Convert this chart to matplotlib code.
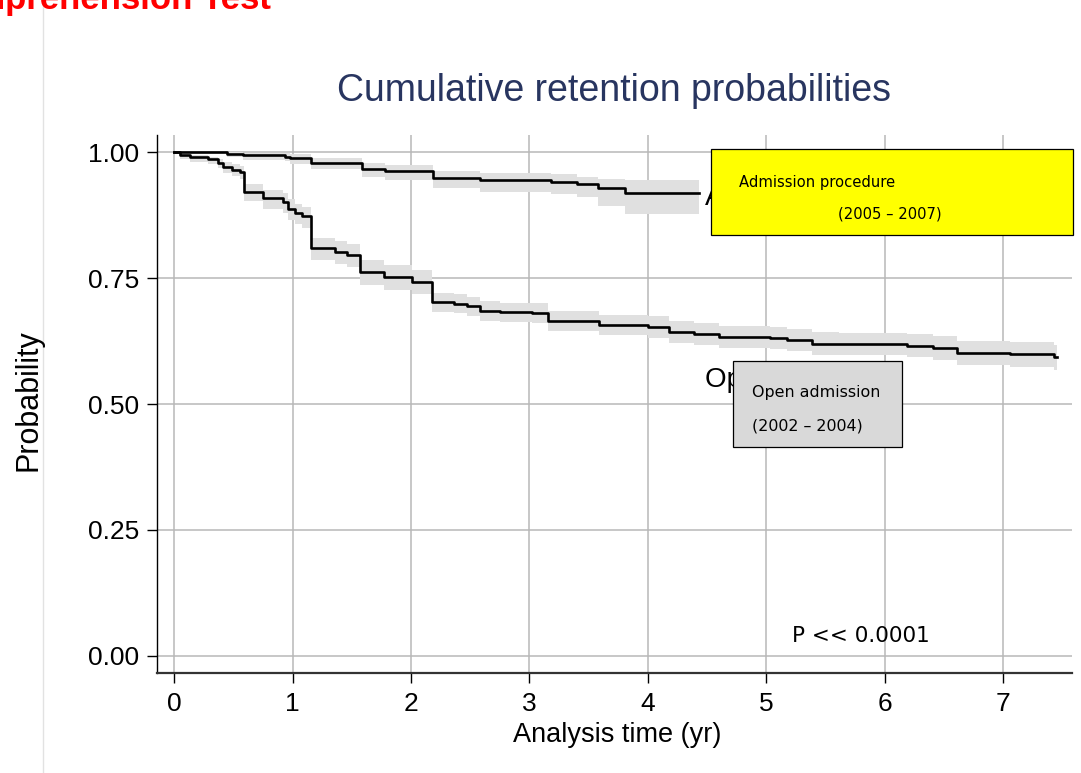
import matplotlib
matplotlib.use("Agg")
import matplotlib.pyplot as plt
from matplotlib.patches import Rectangle
from matplotlib.lines import Line2D
from matplotlib.transforms import Bbox

# ---------------- data ----------------
# Admission procedure (2005 - 2007)
adm_t = [0, 0.445, 0.58, 0.94, 0.98, 1.16, 1.585, 1.78, 2.185, 2.585, 3.18, 3.40, 3.58, 3.81, 4.43]
adm_s = [1.0, 0.997, 0.9935, 0.991, 0.9875, 0.979, 0.966, 0.962, 0.948, 0.944, 0.941, 0.9365, 0.928, 0.919, 0.919]
adm_lo = [1.0, 0.990, 0.985, 0.982, 0.977, 0.966, 0.950, 0.945, 0.928, 0.921, 0.917, 0.911, 0.893, 0.877, 0.877]
adm_hi = [1.0, 1.000, 0.999, 0.998, 0.996, 0.988, 0.978, 0.975, 0.963, 0.959, 0.956, 0.951, 0.946, 0.944, 0.944]

# Open admission (2002 - 2004)
open_t = [0, 0.05, 0.135, 0.29, 0.37, 0.415, 0.49, 0.56, 0.59, 0.755, 0.92, 0.965, 1.02, 1.08,
          1.16, 1.36, 1.46, 1.57, 1.77, 2.01, 2.18, 2.36, 2.47, 2.585, 2.75, 3.02, 3.16, 3.585,
          4.005, 4.175, 4.385, 4.6, 5.03, 5.175, 5.385, 5.61, 6.19, 6.41, 6.61, 7.06, 7.43, 7.45]
open_s = [1.0, 0.994, 0.9895, 0.9855, 0.979, 0.971, 0.9655, 0.961, 0.921, 0.908, 0.901, 0.888, 0.8795, 0.873,
          0.809, 0.802, 0.796, 0.7625, 0.7525, 0.743, 0.702, 0.6995, 0.6945, 0.685, 0.682, 0.680, 0.6647, 0.657,
          0.6535, 0.6435, 0.639, 0.6335, 0.6303, 0.627, 0.620, 0.619, 0.6157, 0.611, 0.602, 0.599, 0.5925, 0.5925]
open_lo = [1.0, 0.987, 0.981, 0.976, 0.968, 0.958, 0.952, 0.946, 0.902, 0.888, 0.880, 0.866, 0.857, 0.850,
           0.785, 0.778, 0.771, 0.737, 0.727, 0.718, 0.683, 0.681, 0.675, 0.665, 0.662, 0.660, 0.644, 0.636,
           0.632, 0.622, 0.617, 0.612, 0.609, 0.605, 0.598, 0.597, 0.593, 0.588, 0.578, 0.574, 0.568, 0.568]
open_hi = [1.0, 0.997, 0.994, 0.991, 0.986, 0.980, 0.976, 0.972, 0.936, 0.924, 0.918, 0.906, 0.898, 0.892,
           0.830, 0.824, 0.818, 0.786, 0.776, 0.767, 0.7195, 0.718, 0.713, 0.704, 0.701, 0.700, 0.684, 0.677,
           0.674, 0.664, 0.660, 0.655, 0.6525, 0.649, 0.642, 0.641, 0.638, 0.634, 0.625, 0.623, 0.617, 0.617]

x_ticks = [0, 1, 2, 3, 4, 5, 6, 7]
y_ticks = [0.00, 0.25, 0.50, 0.75, 1.00]

title = "Cumulative retention probabilities"
xlabel = "Analysis time (yr)"
ylabel = "Probability"
pval = "P << 0.0001"

# ---------------- figure ----------------
W, H = 1081, 773
fig = plt.figure(figsize=(W / 100, H / 100), dpi=100)
fig.patch.set_facecolor("white")

def fx(px):
    return px / W

def fy(py):
    return 1 - py / H

ax = fig.add_axes([fx(157), fy(673), fx(1072) - fx(157), fy(135) - fy(673)])
ax.set_xlim(-0.144, 7.58)
ax.set_ylim(-0.034, 1.034)

band_col = "#e0e0e0"
ax.fill_between(open_t, open_lo, open_hi, step="post", color=band_col, lw=0, zorder=2)
ax.fill_between(adm_t, adm_lo, adm_hi, step="post", color=band_col, lw=0, zorder=2)
ax.step(open_t, open_s, where="post", color="black", lw=1.9, zorder=3)
ax.step(adm_t, adm_s, where="post", color="black", lw=1.9, zorder=3)

ax.set_xticks(x_ticks)
ax.set_yticks(y_ticks)
ax.set_xticklabels([str(v) for v in x_ticks])
ax.set_yticklabels([f"{v:.2f}" for v in y_ticks])
ax.grid(True, color="#b8b8b8", lw=1.1, zorder=0)
ax.set_axisbelow(True)

for s in ["top", "right"]:
    ax.spines[s].set_visible(False)
ax.spines["left"].set_color("black")
ax.spines["left"].set_linewidth(1.0)
ax.spines["bottom"].set_color("#333333")
ax.spines["bottom"].set_linewidth(1.6)

ax.tick_params(axis="both", direction="out", length=7, width=1.0, color="black")
ax.tick_params(axis="x", pad=7)
ax.tick_params(axis="y", pad=6)
for lab in ax.get_xticklabels() + ax.get_yticklabels():
    lab.set_fontfamily(["Liberation Sans", "DejaVu Sans"])
    lab.set_fontsize(19)

# titles and labels
fig.text(fx(614), fy(91), title, ha="center", va="center", color="#283560",
         family=["Liberation Sans", "DejaVu Sans"], fontsize=27)
fig.text(fx(617), fy(735), xlabel, ha="center", va="center", color="black",
         family=["Liberation Sans", "DejaVu Sans"], fontsize=19.5)
fig.text(fx(28), fy(400), ylabel, ha="center", va="center", rotation=90, color="black",
         family=["Liberation Sans", "DejaVu Sans"], fontsize=22)

# original curve labels (partly hidden behind boxes)
clip = Bbox.from_extents(0, 0, 901, H)  # display pixels (origin bottom-left)
t1 = fig.text(fx(705), fy(198), "Admission procedure", ha="left", va="center", color="black",
              family=["Liberation Sans", "DejaVu Sans"], fontsize=20, zorder=4)
t2 = fig.text(fx(705), fy(380), "Open admission", ha="left", va="center", color="black",
              family=["Liberation Sans", "DejaVu Sans"], fontsize=20, zorder=4)
t2.set_clip_box(clip)
t2.set_clip_on(True)

# overlay boxes
fig.patches.append(Rectangle((fx(710.5), fy(235)), fx(1073) - fx(710.5), fy(149.5) - fy(235),
                             transform=fig.transFigure, facecolor="#ffff00", edgecolor="black",
                             lw=0.9, zorder=5))
fig.patches.append(Rectangle((fx(732.5), fy(447)), fx(902) - fx(732.5), fy(361) - fy(447),
                             transform=fig.transFigure, facecolor="#d9d9d9", edgecolor="black",
                             lw=0.9, zorder=5))

dv = ["DejaVu Sans"]
fig.text(fx(739), fy(182), "Admission procedure", ha="left", va="center", family=dv,
         fontsize=10.6, zorder=6)
fig.text(fx(838), fy(214), "(2005 – 2007)", ha="left", va="center", family=dv,
         fontsize=10.6, zorder=6)
fig.text(fx(752), fy(393), "Open admission", ha="left", va="center", family=dv,
         fontsize=11.4, zorder=6)
fig.text(fx(752), fy(426), "(2002 – 2004)", ha="left", va="center", family=dv,
         fontsize=11.4, zorder=6)

fig.text(fx(792), fy(636), pval, ha="left", va="center", family=dv, fontsize=15.5, zorder=6)

# slide remnants
fig.lines.append(Line2D([fx(42.5), fx(42.5)], [0, 1], transform=fig.transFigure,
                        color="#e2e2e2", lw=1.0))
fig.text(fx(271), fy(9), "Comprehension Test", ha="right", va="baseline", color="#ff0000",
         fontweight="bold", family=["Liberation Sans", "DejaVu Sans"], fontsize=25)

fig.savefig("out.png", dpi=100)
